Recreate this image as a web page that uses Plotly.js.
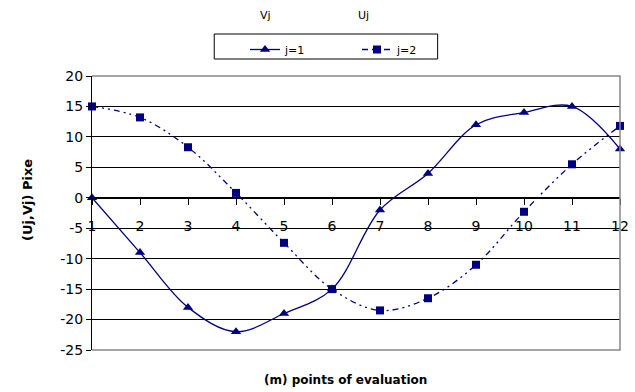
<!DOCTYPE html>
<html>
<head>
<meta charset="utf-8">
<script src="https://cdn.plot.ly/plotly-3.0.1.min.js"></script>
<style>html,body{margin:0;padding:0;background:#fff;}#chart{width:635px;height:392px;}</style>
</head>
<body>
<div id="chart"></div>
<script>
const points = [1,2,3,4,5,6,7,8,9,10,11,12];
const seriesJ1 = [0,-9,-18,-22,-19,-15,-2,4,12,14,15,8];
const seriesJ2 = [15,13.2,8.3,0.8,-7.4,-15,-18.5,-16.5,-11,-2.3,5.5,11.8];
const seriesNames = ['j=1','j=2'];
const yTicks = [20,15,10,5,0,-5,-10,-15,-20,-25];
const headerLabels = ['Vj','Uj'];
const xTitle = '(m) points of evaluation';
const yTitle = '(Uj,Vj) Pixe';

const navy = '#000080';
const FONT = 'DejaVu Sans, Arial, sans-serif';
const W = 527, H = 274, L = 92, B = 350;
const px = v => (v - L) / W;
const py = v => (B - v) / H;

const traces = [
  {x: points, y: seriesJ1, name: seriesNames[0], type: 'scatter', mode: 'lines+markers',
   line: {color: navy, width: 1.3, shape: 'spline', smoothing: 1},
   marker: {symbol: 'triangle-up', size: 9, color: navy}, cliponaxis: false},
  {x: points, y: seriesJ2, name: seriesNames[1], type: 'scatter', mode: 'lines+markers',
   line: {color: navy, width: 1.3, shape: 'spline', smoothing: 1, dash: '6px,4px,2px,4px,2px,4px'},
   marker: {symbol: 'square', size: 8, color: navy}, cliponaxis: false}
];

const layout = {
  width: 635, height: 392,
  margin: {l: 92, r: 15, t: 76, b: 42},
  paper_bgcolor: '#fff', plot_bgcolor: '#fff',
  font: {family: FONT, size: 14, color: '#000'},
  showlegend: true,
  legend: {orientation: 'h', xref: 'container', yref: 'container',
    x: 245/635, y: 1 - 35/392, xanchor: 'left', yanchor: 'top',
    borderwidth: 0, bgcolor: 'rgba(0,0,0,0)',
    font: {family: FONT, size: 11, color: '#000'}, entrywidth: 67, entrywidthmode: 'pixels'},
  xaxis: {range: [1, 12], tickvals: points, ticktext: points.map(String),
    anchor: 'free', position: 25/45, showgrid: false, zeroline: false,
    showline: true, linecolor: '#000', linewidth: 1,
    ticks: 'outside', ticklen: 6, tickcolor: '#000', ticklabelstandoff: 9,
    tickfont: {family: FONT, size: 14, color: '#000'}},
  yaxis: {range: [-25, 20], tickvals: yTicks, ticktext: yTicks.map(String),
    showgrid: true, gridcolor: '#000', gridwidth: 1,
    zeroline: true, zerolinecolor: '#000', zerolinewidth: 1,
    showline: true, linecolor: '#000', linewidth: 1,
    ticks: 'outside', ticklen: 5, tickcolor: '#000',
    tickfont: {family: FONT, size: 14, color: '#000'}},
  shapes: [
    {type: 'path', xref: 'paper', yref: 'paper', path: 'M 0 1 L 1 1 L 1 0 L 0 0',
     line: {color: '#888', width: 1.5}, layer: 'above'},
    {type: 'rect', xref: 'paper', yref: 'paper', x0: px(214), x1: px(437), y0: py(59), y1: py(34),
     line: {color: '#000', width: 1}, fillcolor: 'rgba(0,0,0,0)', layer: 'below'}
  ],
  annotations: [
    {text: headerLabels[0], xref: 'paper', yref: 'paper', x: px(265), y: py(15),
     showarrow: false, xanchor: 'center', yanchor: 'middle', font: {family: FONT, size: 11}},
    {text: headerLabels[1], xref: 'paper', yref: 'paper', x: px(363), y: py(15),
     showarrow: false, xanchor: 'center', yanchor: 'middle', font: {family: FONT, size: 11}},
    {text: '<b>' + xTitle + '</b>', xref: 'paper', yref: 'paper', x: px(345), y: py(380),
     showarrow: false, xanchor: 'center', yanchor: 'middle', font: {family: FONT, size: 12}},
    {text: '<b>' + yTitle + '</b>', xref: 'paper', yref: 'paper', x: px(27), y: py(200),
     showarrow: false, xanchor: 'center', yanchor: 'middle', textangle: -90, font: {family: FONT, size: 13}}
  ]
};

Plotly.newPlot('chart', traces, layout, {displayModeBar: false, staticPlot: true});
</script>
</body>
</html>
